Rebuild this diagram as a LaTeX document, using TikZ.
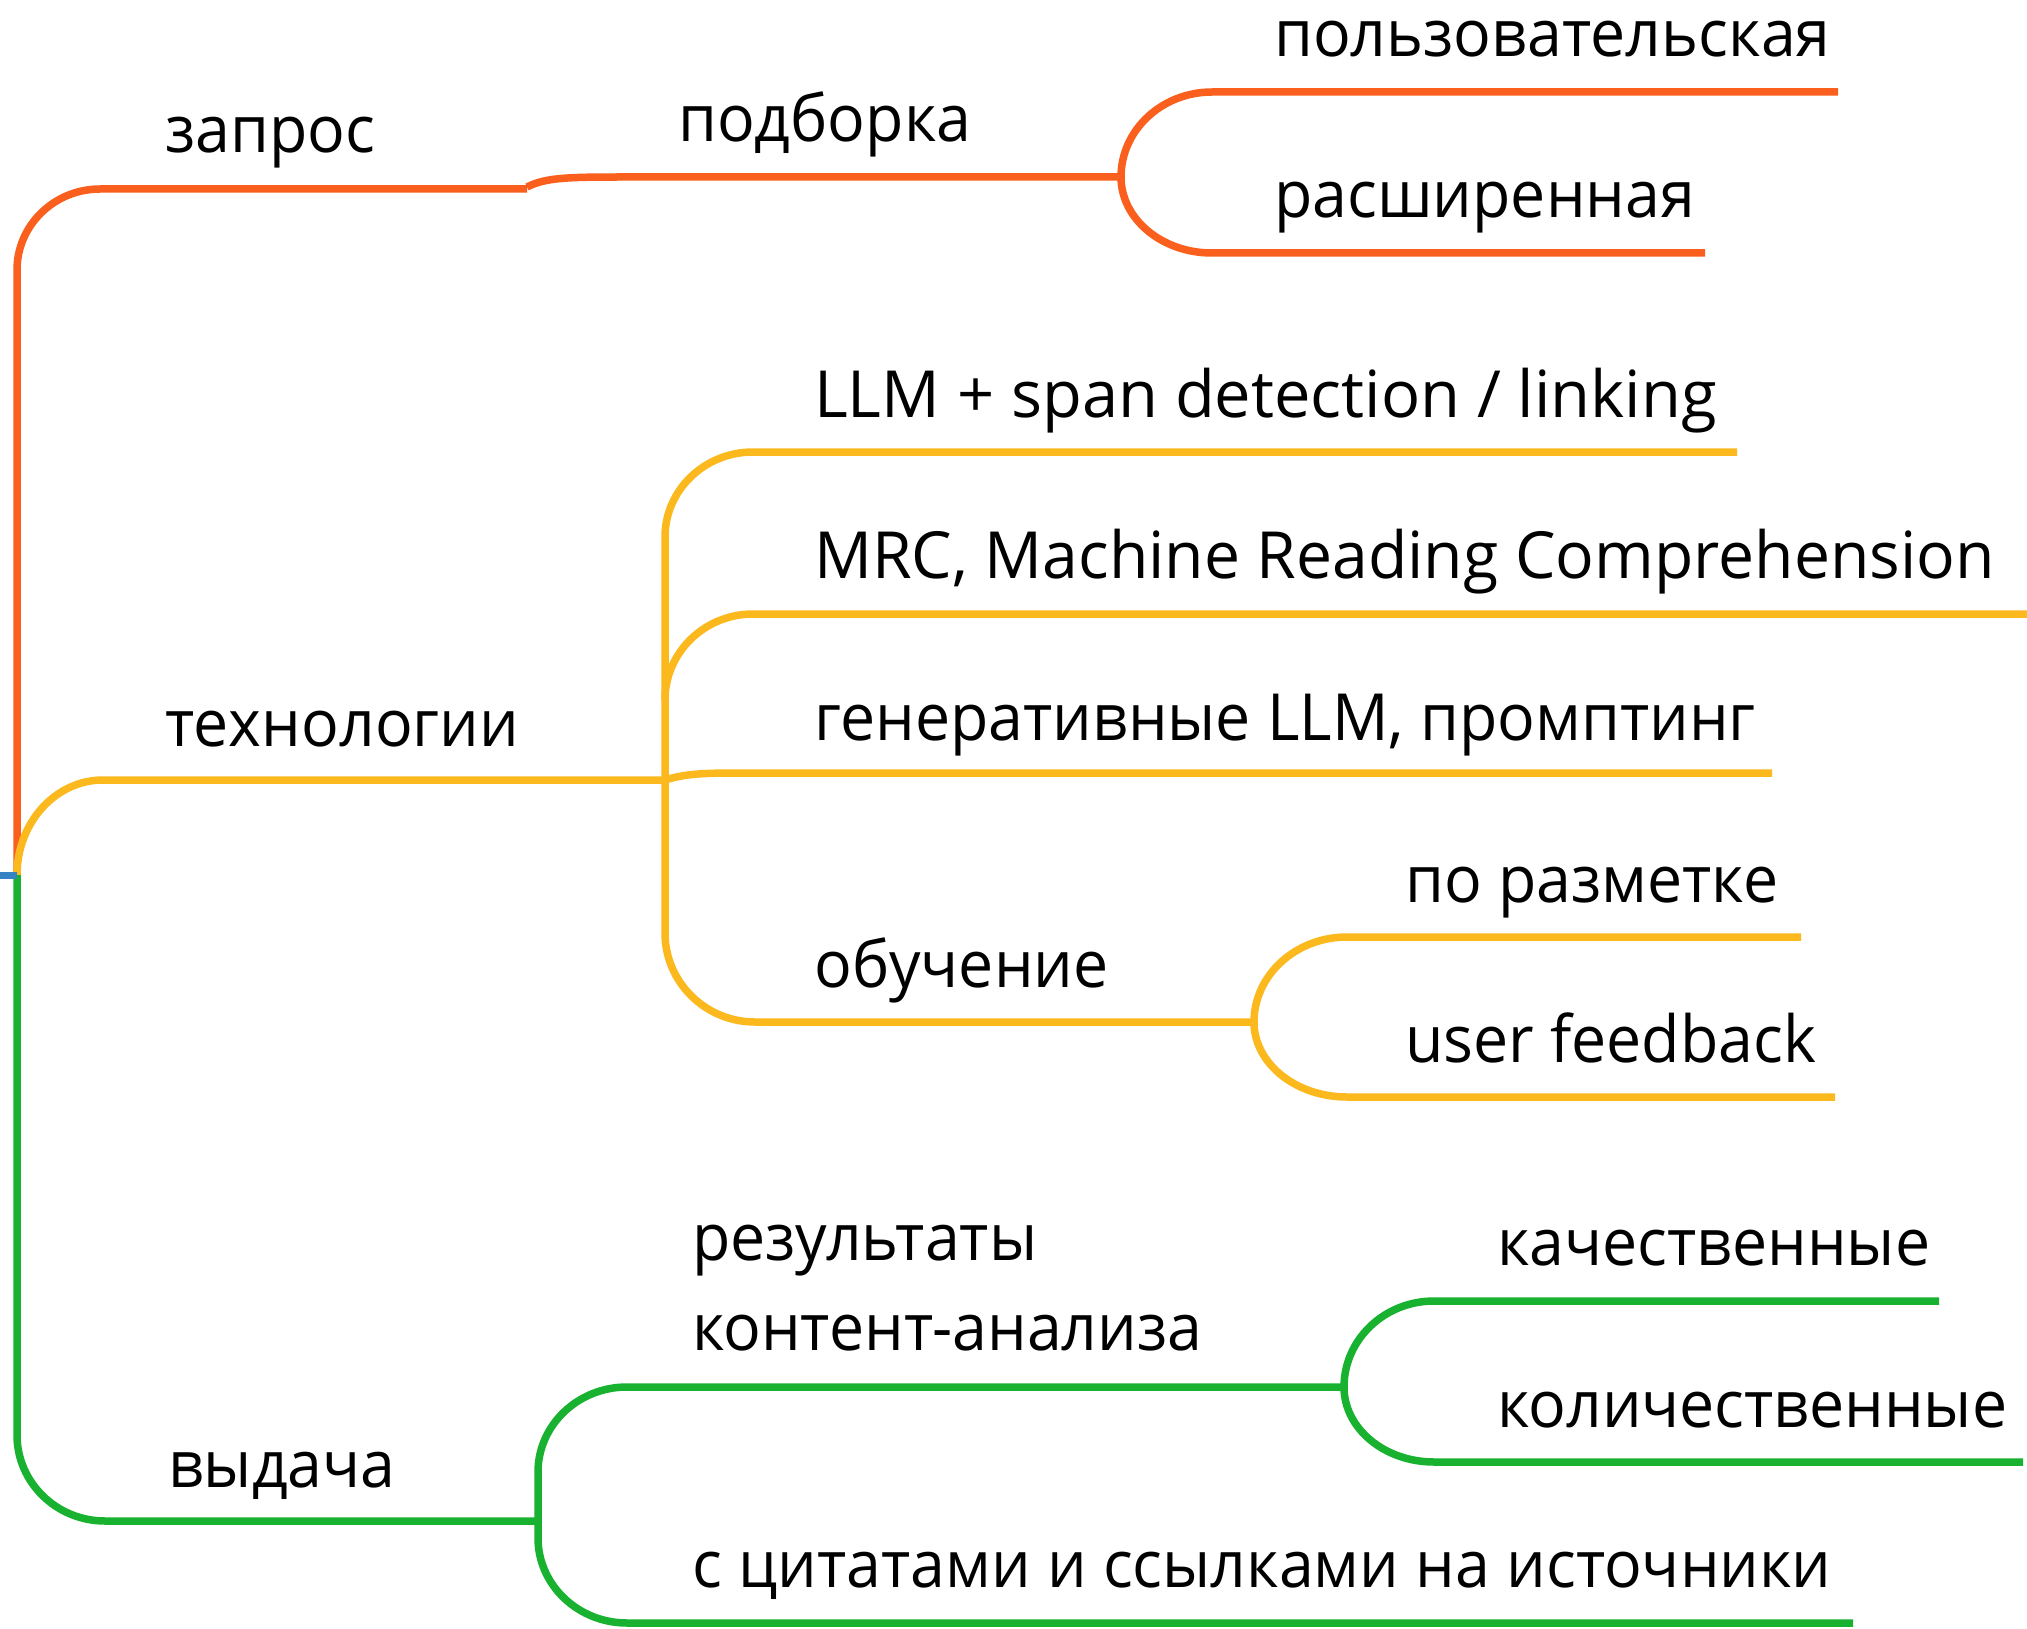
\documentclass[tikz,border=0pt]{standalone}
\usepackage{fontspec}
\setmainfont[FakeStretch=0.963]{Open Sans}
\newfontfamily\widea[FakeStretch=1.0]{Open Sans}
\newfontfamily\wideb[FakeStretch=0.988]{Open Sans}
\usetikzlibrary{calc}
\definecolor{corange}{RGB}{250,95,30}
\definecolor{cyellow}{RGB}{251,185,30}
\definecolor{cgreen}{RGB}{24,178,48}
\definecolor{cblue}{RGB}{55,130,195}
\newcommand\brc[2]{.. controls ($(#1)!0.552!(#1|-#2)$) and ($(#2)!0.552!(#1|-#2)$) .. (#2)}
\begin{document}
\begin{tikzpicture}[x=1pt,y=-1pt,
  br/.style={line width=7.5pt},
  lbl/.style={anchor=base west, inner sep=0pt, font=\fontsize{65}{78}\selectfont}]
\useasboundingbox (0,0) rectangle (2027,1629);
\fill[white] (0,0) rectangle (2027,1629);
% root
\coordinate (R) at (17,875);
\coordinate (B0) at (0,875);
% orange
\coordinate (o1) at (17,270);
\coordinate (o2) at (100,189);
\coordinate (o3) at (527,189);
\coordinate (o4) at (620,177);
\coordinate (F1) at (1121,177);
\coordinate (f1a) at (1212,92);
\coordinate (f1b) at (1838,92);
\coordinate (f1c) at (1212,253);
\coordinate (f1d) at (1705,253);
% yellow
\coordinate (y1) at (103,780);
\coordinate (J) at (665,780);
\coordinate (ya) at (665,537);
\coordinate (yb) at (753,452);
\coordinate (yc) at (1737,452);
\coordinate (yd) at (665,700);
\coordinate (ye) at (753,614);
\coordinate (yf) at (2027,614);
\coordinate (yg) at (740,773);
\coordinate (yh) at (1772,773);
\coordinate (yi) at (665,933);
\coordinate (yj) at (755,1022);
\coordinate (F2) at (1254,1022);
\coordinate (f2a) at (1347,937);
\coordinate (f2b) at (1801,937);
\coordinate (f2c) at (1347,1097);
\coordinate (f2d) at (1835,1097);
% green
\coordinate (g1) at (17,1435);
\coordinate (g2) at (105,1521);
\coordinate (G) at (538,1521);
\coordinate (ga) at (538,1472);
\coordinate (gb) at (627,1387);
\coordinate (F3) at (1344,1387);
\coordinate (gc) at (538,1538);
\coordinate (gd) at (627,1623);
\coordinate (ge) at (1853,1623);
\coordinate (f3a) at (1434,1301);
\coordinate (f3b) at (1939,1301);
\coordinate (f3c) at (1434,1462);
\coordinate (f3d) at (2023,1462);

% orange branches
\draw[br,corange] (R) -- (o1) \brc{o1}{o2} -- (o3);
\draw[br,corange] ($(o3)+(0,-2)$) .. controls +(18,-9) and +(-55,0) .. (o4) -- (F1);
\draw[br,corange] (F1) \brc{F1}{f1a} -- (f1b);
\draw[br,corange] (F1) \brc{F1}{f1c} -- (f1d);
% yellow branches
\draw[br,cyellow] (R) \brc{R}{y1} -- (J);
\draw[br,cyellow] (J) -- (ya) \brc{ya}{yb} -- (yc);
\draw[br,cyellow] (yd) \brc{yd}{ye} -- (yf);
\draw[br,cyellow] (J) .. controls +(20,-6) and +(-40,0) .. (yg) -- (yh);
\draw[br,cyellow] (J) -- (yi) \brc{yi}{yj} -- (F2);
\draw[br,cyellow] (F2) \brc{F2}{f2a} -- (f2b);
\draw[br,cyellow] (F2) \brc{F2}{f2c} -- (f2d);
% green branches
\draw[br,cgreen] (R) -- (g1) \brc{g1}{g2} -- (G);
\draw[br,cgreen] (G) -- (ga) \brc{ga}{gb} -- (F3);
\draw[br,cgreen] (G) -- (gc) \brc{gc}{gd} -- (ge);
\draw[br,cgreen] (F3) \brc{F3}{f3a} -- (f3b);
\draw[br,cgreen] (F3) \brc{F3}{f3c} -- (f3d);
% root tick
\draw[line width=7pt,cblue] (B0) -- (R);

% labels
\node[lbl] (t1) at (165,153) {запрос};
\node[lbl] (t2) at (678,142) {подборка};
\node[lbl] (t3) at (1274,57) {пользовательская};
\node[lbl] (t4) at (1274,218) {расширенная};
\node[lbl] (t5) at (165,746) {технологии};
\node[lbl] (t6) at (814,417) {\widea LLM + span detection / linking};
\node[lbl] (t7) at (814,578) {\wideb MRC, Machine Reading Comprehension};
\node[lbl] (t8) at (814,740) {генеративные LLM, промптинг};
\node[lbl] (t9) at (814,987) {обучение};
\node[lbl] (t10) at (1405,902) {по разметке};
\node[lbl] (t11) at (1405,1062) {user feedback};
\node[lbl] (t12) at (168,1487) {выдача};
\node[lbl] (t13) at (692,1260) {результаты};
\node[lbl] (t14) at (692,1350) {контент-анализа};
\node[lbl] (t15) at (1497,1265) {качественные};
\node[lbl] (t16) at (1497,1427) {количественные};
\node[lbl] (t17) at (692,1587) {с цитатами и ссылками на источники};
\end{tikzpicture}
\end{document}
